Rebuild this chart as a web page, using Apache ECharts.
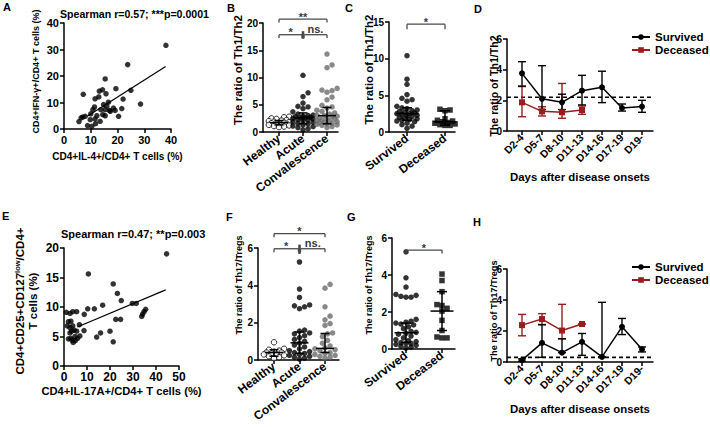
<!DOCTYPE html>
<html><head><meta charset="utf-8">
<script src="https://cdn.jsdelivr.net/npm/echarts@6/dist/echarts.min.js"></script>
<style>html,body{margin:0;padding:0;background:#fff}#c{width:710px;height:427px}</style>
</head><body><div id="c"></div>
<script>
// ================= DATA =================
// Panel A: CD4+IL-4+ (x) vs CD4+IFN-γ+ (y)
const aX = [38.1,23.8,15.4,7.2,13.2,14.4,19.4,25.0,15.7,11.6,13.0,22.1,16.6,11.4,14.8,16.0,28.6,10.8,13.8,15.4,18.5,19.1,21.6,17.3,12.3,14.5,15.4,20.4,7.0,6.4,7.9,5.6,9.8,11.6,13.5,8.8,10.4,11.8,10.0,17.0];
const aY = [31.6,24.3,18.9,13.1,14.3,14.8,15.2,14.6,13.3,11.4,12.1,11.3,10.1,8.3,9.2,8.6,9.4,7.3,7.3,7.3,7.9,7.0,7.7,6.7,5.0,5.4,5.0,4.8,4.5,4.2,4.8,2.8,3.5,3.8,2.9,1.3,1.0,2.0,5.7,7.0];
const aFitX = [8.7, 38.0];
const aFitY = [4.8, 23.6];
const aTitle = 'Spearman r=0.57; ***p=0.0001';

// Panel E: CD4+IL-17A+ (x) vs Tregs (y)
const eX = [44.6,10.6,21.4,23.2,24.9,29.7,31.4,16.8,13.2,10.3,35.5,34.8,34.2,33.8,8.8,5.5,1.0,2.6,3.8,22.5,24.6,6.7,1.9,3.0,1.4,2.6,3.8,4.4,3.3,5.5,2.6,8.7,15.9,20.0,14.2,21.4,1.9,3.0,4.0,4.9,5.9,6.9,4.8,3.5];
const eY = [19.0,15.6,13.9,12.3,11.1,10.6,10.6,10.3,9.7,9.7,9.6,9.2,8.8,8.4,8.75,9.2,9.1,8.9,9.2,7.9,7.9,7.0,7.5,7.6,6.8,6.5,6.8,6.1,5.9,5.9,5.6,6.0,5.6,5.9,4.9,4.1,4.6,4.7,4.0,4.3,4.7,5.1,5.0,4.4];
const eFitX = [5.8, 44.2];
const eFitY = [6.6, 12.9];
const eTitle = 'Spearman r=0.47; **p=0.003';

const cats3 = ['Healthy', 'Acute', 'Convalescence'];
const cats2 = ['Survived', 'Deceased'];

// Panel B: Th1/Th2 by group
const bHealthy = [2.8,2.7,2.5,2.4,2.2,2.1,2.0,1.9,1.8,1.7,1.7,1.6,1.5,1.5,1.4,1.3,1.2,1.1,1.0,0.9];
const bAcute = [10.4,7.2,6.5,5.3,4.7,4.6,4.3,3.7,3.3,3.1,3.0,2.9,2.8,2.7,2.6,2.6,2.5,2.4,2.3,2.2,2.0,1.9,1.8,1.6,1.5,1.3,1.1,1.0,0.8,0.6,0.4];
const bConv = [14.3,12.3,11.8,8.0,7.7,7.6,7.3,6.4,5.9,4.9,4.6,4.4,4.0,3.8,3.5,3.3,3.1,3.0,2.9,2.8,2.6,2.5,2.4,2.2,2.1,2.0,1.9,1.8,1.7,1.6,1.5,1.4,1.3,1.2,1.0,0.8];
const bMed = [1.7, 2.6, 3.0];
const bLo = [1.3, 1.5, 1.5];
const bHi = [2.1, 3.5, 4.5];
const bSig = [{from:0,to:2,y:20.7,text:'**'},{from:0,to:0.96,y:17.85,text:'*'},{from:1.04,to:2,y:17.85,text:'ns.'}];
const bMark = [[1, 18.5, 17.1]];

// Panel C: Th1/Th2 survived vs deceased
const cSurv = [10.4,7.2,6.5,5.1,4.6,4.4,4.2,3.5,3.3,3.2,3.0,2.9,2.8,2.7,2.6,2.5,2.5,2.4,2.3,2.2,2.1,2.0,1.9,1.8,1.7,1.6,1.5,1.4,1.2,1.0,0.8,0.5];
const cDec = [3.1,3.0,2.9,1.8,1.6,1.5,1.4,1.3,1.2,1.1,1.0,0.9,0.9];
const cMed = [2.5, 1.4];
const cLo = [1.6, 0.9];
const cHi = [3.3, 2.9];
const cSig = [{from:0,to:1,y:14.7,text:'*'}];

// Panel F: Th17/Tregs by group
const fHealthy = [0.95,0.6,0.55,0.5,0.45,0.4,0.4,0.35,0.3,0.3,0.25,0.2,0.15,0.1];
const fAcute = [5.25,3.8,3.35,2.95,2.9,2.85,2.75,1.6,1.55,1.45,1.4,1.3,1.2,1.1,1.0,0.9,0.8,0.7,0.6,0.5,0.45,0.4,0.35,0.3,0.25,0.2,0.15,0.1,0.05];
const fConv = [4.05,3.85,2.85,2.35,2.15,1.95,1.85,1.45,1.4,1.25,1.05,0.9,0.75,0.65,0.6,0.55,0.5,0.4,0.35,0.3,0.25,0.2,0.15,0.1];
const fMed = [0.4, 0.92, 0.62];
const fLo = [0.2, 0.35, 0.4];
const fHi = [0.55, 1.5, 1.42];
const fSig = [{from:0,to:2,y:6.77,text:'*'},{from:0,to:0.96,y:5.96,text:'*'},{from:1.04,to:2,y:5.96,text:'ns.'}];
const fMark = [[1, 6.18, 5.68]];

// Panel G: Th17/Tregs survived vs deceased
const gSurv = [5.25,3.85,3.35,2.95,2.9,2.85,2.8,2.8,1.6,1.5,1.45,1.4,1.35,1.3,1.2,1.1,0.95,0.9,0.85,0.8,0.7,0.6,0.5,0.45,0.4,0.35,0.3,0.3,0.25,0.2,0.15,0.1,0.05];
const gDec = [4.05,3.7,3.1,2.4,2.35,2.2,2.05,1.55,1.0,0.65,0.6,0.6];
const gMed = [0.88, 2.05];
const gLo = [0.35, 1.0];
const gHi = [1.4, 3.1];
const gSig = [{from:0,to:1,y:5.35,text:'*'}];

// Panels D & H: time course
const days = ['D2-4','D5-7','D8-10','D11-13','D14-16','D17-19','D19-'];
const dSurv = [3.76,2.1,1.87,2.63,2.85,1.5,1.59];
const dSurvLo = [2.93,1.4,1.4,1.7,1.85,1.3,1.22];
const dSurvHi = [4.52,4.26,2.4,3.63,3.9,1.76,2.0];
const dDec = [1.87,1.28,1.22,1.37];
const dDecLo = [0.93,0.98,0.83,1.09];
const dDecHi = [2.9,1.58,3.1,1.63];
const dRef = 2.2;
const hSurv = [0.12,1.23,0.6,1.3,0.33,2.27,0.82];
const hSurvLo = [0.05,0.3,0.6,0.43,0.33,1.77,0.65];
const hSurvHi = [0.2,2.4,1.5,1.84,3.85,2.81,0.97];
const hDec = [2.38,2.77,2.03,2.45];
const hDecLo = [1.69,2.42,1.5,2.45];
const hDecHi = [3.07,3.12,3.72,2.45];
const hRef = 0.3;

// axis titles
const yNames = {
  A:'CD4+IFN-γ+/CD4+ T cells (%)', B:'The ratio of Th1/Th2', C:'The ratio of Th1/Th2', D:'The ratio of Th1/Th2',
  E:'CD4+CD25+CD127{sup|low}/CD4+\nT cells (%)', F:'The ratio of Th17/Tregs', G:'The ratio of Th17/Tregs', H:'The ratio of Th17/Tregs'
};

// ================= BUILD =================
const FONT = '"Liberation Sans", Arial, Helvetica, sans-serif';
const RED = '#9a1d1d';
const GRAY = '#6b6b6b';
const grids = [], xAxes = [], yAxes = [], series = [], titles = [], legends = [], graphics = [];
const AX = {color:'#000', width:1.5};

function addGrid(l, t, w, h) {
  grids.push({left:l, top:t, width:w, height:h, containLabel:false, outerBoundsMode:'none'});
  return grids.length - 1;
}
function lab(size, extra) {
  return Object.assign({color:'#000', fontSize:size, fontWeight:'bold', fontFamily:FONT}, extra || {});
}
function nameStyle(size) {
  return {fontSize:size, fontWeight:'bold', color:'#000', fontFamily:FONT};
}
function vName(text, cx, cy, size, rich) {
  const st = {text:text, fill:'#000', fontSize:size, fontWeight:'bold', fontFamily:FONT,
    align:'center', verticalAlign:'middle', textAlign:'center', textVerticalAlign:'middle'};
  if (rich) { st.rich = rich; st.lineHeight = 13; }
  graphics.push({type:'text', x:cx, y:cy, rotation:Math.PI/2, silent:true, style:st});
}
function segSeries(xi, yi, segs, color, width, dash, z) {
  return {type:'custom', xAxisIndex:xi, yAxisIndex:yi, silent:true, animation:false, clip:false, z:z || 4,
    data:segs, encode:{x:[0,2], y:[1,3]},
    renderItem:function(params, api){
      const a = api.coord([api.value(0), api.value(1)]);
      const b = api.coord([api.value(2), api.value(3)]);
      return {type:'line', shape:{x1:a[0], y1:a[1], x2:b[0], y2:b[1]},
        style:{stroke:color, lineWidth:width, lineDash:dash || null, fill:null}};
    }};
}
function textSeries(xi, yi, pts, texts, lifts, color, size) {
  return {type:'custom', xAxisIndex:xi, yAxisIndex:yi, silent:true, animation:false, clip:false, z:6,
    data:pts,
    renderItem:function(params, api){
      const a = api.coord([api.value(0), api.value(1)]);
      return {type:'text', x:a[0], y:a[1] - lifts[params.dataIndex],
        style:{text:texts[params.dataIndex], fill:color, fontSize:size, fontWeight:'bold', fontFamily:FONT,
          align:'center', verticalAlign:'bottom', textAlign:'center', textVerticalAlign:'bottom'}};
    }};
}
// deterministic beeswarm layout: offsets depend only on the values
function swarm(vals, center, pxX, pxY, d, maxHalf) {
  const order = vals.map((v,i)=>i).sort((a,b)=>vals[a]-vals[b]);
  const placed = [], out = new Array(vals.length), step = d*0.5;
  for (const i of order) {
    const py = vals[i]*pxY;
    let chosen = null, bestOff = 0, bestDist = -1;
    for (let k = 0; k < 80; k++) {
      const off = (k === 0 ? 0 : (k % 2 ? 1 : -1) * Math.ceil(k/2)) * step;
      if (Math.abs(off) > maxHalf) break;
      let minD = Infinity;
      for (const p of placed) { const dx = p[0]-off, dy = p[1]-py; const dd = Math.sqrt(dx*dx+dy*dy); if (dd < minD) minD = dd; }
      if (minD >= d) { chosen = off; break; }
      if (minD > bestDist) { bestDist = minD; bestOff = off; }
    }
    if (chosen === null) chosen = bestOff;
    placed.push([chosen, py]);
    out[i] = [center + chosen/pxX, vals[i]];
  }
  return out;
}

function scatterPanel(p) {
  const g = addGrid(p.L, p.T, p.R-p.L, p.B-p.T);
  const xi = xAxes.length;
  xAxes.push({gridIndex:g, type:'value', min:0, max:p.xmax, interval:p.xint,
    axisLine:{show:true, onZero:false, lineStyle:AX}, axisTick:{show:true, length:4, lineStyle:AX},
    axisLabel:lab(p.tick, {margin:5}), splitLine:{show:false},
    name:p.xName, nameLocation:'middle', nameGap:p.xGap, nameMoveOverlap:false, nameTextStyle:nameStyle(p.xNameSize)});
  const yi = yAxes.length;
  yAxes.push({gridIndex:g, type:'value', min:0, max:p.ymax, interval:p.yint,
    axisLine:{show:true, onZero:false, lineStyle:AX}, axisTick:{show:true, length:4, lineStyle:AX},
    axisLabel:lab(p.tick, {margin:5}), splitLine:{show:false}});
  series.push({type:'scatter', xAxisIndex:xi, yAxisIndex:yi, data:p.xs.map((x,i)=>[x, p.ys[i]]),
    symbol:'circle', symbolSize:p.dot, itemStyle:{color:'#000'}, silent:true, z:3});
  series.push(segSeries(xi, yi, [[p.fitX[0], p.fitY[0], p.fitX[1], p.fitY[1]]], '#000', 1.2));
}

function catPanel(p) {
  const n = p.cats.length, unit = (p.c1-p.c0)/(n-1);
  const xmin = -(p.c0-p.L)/unit, xmax = (n-1) + (p.R-p.c1)/unit;
  const h = p.B - p.T, pxY = h/p.ymax;
  const g = addGrid(p.L, p.T, p.R-p.L, h);
  const xi = xAxes.length;
  xAxes.push({gridIndex:g, type:'value', min:xmin, max:xmax,
    axisLine:{show:true, onZero:false, lineStyle:AX}, axisTick:{show:false}, axisLabel:{show:false}, splitLine:{show:false},
    name:p.xName || '', nameLocation:'middle', nameGap:p.xGap || 0, nameMoveOverlap:false, nameTextStyle:nameStyle(p.xNameSize || 11)});
  const yi = yAxes.length;
  yAxes.push({gridIndex:g, type:'value', min:0, max:p.ymax, interval:p.yint,
    axisLine:{show:true, onZero:false, lineStyle:AX}, axisTick:{show:true, length:4, lineStyle:AX},
    axisLabel:lab(p.tick, {margin:5}), splitLine:{show:false}});
  const gl = addGrid(p.c0, p.T, p.c1-p.c0, h);
  xAxes.push({gridIndex:gl, type:'category', data:p.cats, boundaryGap:false,
    axisLine:{show:false}, axisTick:{show:true, length:4, inside:false, lineStyle:AX},
    axisLabel:lab(p.catSize, {rotate:p.catRot, margin:5, interval:0}), splitLine:{show:false}});
  yAxes.push({gridIndex:gl, type:'value', show:false, min:0, max:1, splitLine:{show:false}});
  return {xi, yi, unit, pxY, xmin, xmax};
}

function dotPlot(p) {
  const ax = catPanel(p);
  p.groups.forEach((gr, k) => {
    series.push({type:'scatter', xAxisIndex:ax.xi, yAxisIndex:ax.yi,
      data:swarm(gr.vals, k, ax.unit, ax.pxY, p.dot*0.92, p.spread),
      symbol:gr.symbol, symbolSize:p.dot, itemStyle:gr.style, clip:false, silent:true, z:3});
  });
  const segs = [], mw = p.medHalf/ax.unit, cw = p.capHalf/ax.unit;
  p.med.forEach((m, k) => {
    segs.push([k-mw, m, k+mw, m], [k, p.lo[k], k, p.hi[k]],
      [k-cw, p.lo[k], k+cw, p.lo[k]], [k-cw, p.hi[k], k+cw, p.hi[k]]);
  });
  series.push(segSeries(ax.xi, ax.yi, segs, '#000', 1.5, null, 5));
  const bs = [], tp = [], tt = [], tl = [], drop = p.drop/ax.pxY;
  p.sig.forEach(b => {
    bs.push([b.from, b.y, b.to, b.y], [b.from, b.y, b.from, b.y-drop], [b.to, b.y, b.to, b.y-drop]);
    tp.push([(b.from+b.to)/2, b.y]); tt.push(b.text); tl.push(b.text.charAt(0) === '*' ? -3 : 0.5);
  });
  series.push(segSeries(ax.xi, ax.yi, bs, '#4a4a4a', 1.3));
  if (p.marks) series.push(segSeries(ax.xi, ax.yi, p.marks.map(m => [m[0], m[1], m[0], m[2]]), '#4a4a4a', 2.6));
  series.push(textSeries(ax.xi, ax.yi, tp, tt, tl, '#3a3a3a', 11));
}

function timePanel(p) {
  const ax = catPanel(p);
  const capS = p.capHalf/ax.unit;
  series.push(segSeries(ax.xi, ax.yi, [[ax.xmin, p.ref, ax.xmax, p.ref]], '#000', 1.6, [4,3], 2));
  function errs(v, lo, hi) {
    const s = [];
    v.forEach((m, k) => { s.push([k, lo[k], k, hi[k]], [k-capS, lo[k], k+capS, lo[k]], [k-capS, hi[k], k+capS, hi[k]]); });
    return s;
  }
  series.push(segSeries(ax.xi, ax.yi, errs(p.dec, p.decLo, p.decHi), RED, 1.4, null, 3));
  series.push(segSeries(ax.xi, ax.yi, errs(p.surv, p.survLo, p.survHi), '#000', 1.4, null, 4));
  series.push({type:'line', name:'Deceased', xAxisIndex:ax.xi, yAxisIndex:ax.yi, data:p.dec.map((v,i)=>[i,v]),
    symbol:'rect', symbolSize:6, showSymbol:true, color:RED, itemStyle:{color:RED}, lineStyle:{color:RED, width:1.5}, silent:true, z:6});
  series.push({type:'line', name:'Survived', xAxisIndex:ax.xi, yAxisIndex:ax.yi, data:p.surv.map((v,i)=>[i,v]),
    symbol:'circle', symbolSize:6, showSymbol:true, color:'#000', itemStyle:{color:'#000'}, lineStyle:{color:'#000', width:1.5}, silent:true, z:7});
  legends.push({data:['Survived','Deceased'], orient:'vertical', left:p.legL, top:p.legT, padding:0, itemGap:1,
    itemWidth:18, itemHeight:7, selectedMode:false, textStyle:lab(11.5, {lineHeight:12})});
}

// ---- Panel A ----
scatterPanel({L:64, R:171, T:23, B:129, xmax:40, xint:10, ymax:40, yint:10, tick:11, dot:5.5,
  xs:aX, ys:aY, fitX:aFitX, fitY:aFitY, xName:'CD4+IL-4+/CD4+ T cells (%)', xGap:22, xNameSize:10});
vName(yNames.A, 35.5, 71.5, 9);
// ---- Panel E ----
scatterPanel({L:64, R:179, T:248, B:366, xmax:50, xint:10, ymax:20, yint:5, tick:12, dot:5.5,
  xs:eX, ys:eY, fitX:eFitX, fitY:eFitY, xName:'CD4+IL-17A+/CD4+ T cells (%)', xGap:19, xNameSize:11.2});
vName(yNames.E, 26.5, 301, 11.5, {sup:{fontSize:7.5, fontWeight:'bold', fontFamily:FONT, fill:'#000', verticalAlign:'top', lineHeight:8}});

// ---- Panel B ----
dotPlot({L:263, R:338, T:23, B:132, c0:279, c1:327, ymax:20, yint:5, tick:10, catSize:12, catRot:37, cats:cats3,
  dot:5.5, spread:11, medHalf:9, capHalf:4.5, drop:3.3,
  groups:[{vals:bHealthy, symbol:'circle', style:{color:'#fff', borderColor:'#000', borderWidth:1}},
          {vals:bAcute, symbol:'circle', style:{color:'#000'}},
          {vals:bConv, symbol:'circle', style:{color:GRAY}}],
  med:bMed, lo:bLo, hi:bHi, sig:bSig, marks:bMark});
vName(yNames.B, 238, 70, 11.5);
// ---- Panel C ----
dotPlot({L:389, R:455, T:22, B:132, c0:407, c1:445, ymax:15, yint:5, tick:10, catSize:12, catRot:37, cats:cats2,
  dot:5.5, spread:12, medHalf:11.5, capHalf:5, drop:5,
  groups:[{vals:cSurv, symbol:'circle', style:{color:'#000'}},
          {vals:cDec, symbol:'rect', style:{color:'#000'}}],
  med:cMed, lo:cLo, hi:cHi, sig:cSig});
vName(yNames.C, 368.5, 69.5, 11.5);
// ---- Panel F ----
dotPlot({L:258, R:339, T:248, B:360, c0:274, c1:325, ymax:6, yint:2, tick:10, catSize:12, catRot:37, cats:cats3,
  dot:5.5, spread:11, medHalf:9, capHalf:4.5, drop:3.5,
  groups:[{vals:fHealthy, symbol:'circle', style:{color:'#fff', borderColor:'#000', borderWidth:1}},
          {vals:fAcute, symbol:'circle', style:{color:'#000'}},
          {vals:fConv, symbol:'circle', style:{color:GRAY}}],
  med:fMed, lo:fLo, hi:fHi, sig:fSig, marks:fMark});
vName(yNames.F, 238.5, 285, 9);
// ---- Panel G ----
dotPlot({L:392, R:455, T:238, B:349, c0:406, c1:442, ymax:6, yint:2, tick:10, catSize:12, catRot:37, cats:cats2,
  dot:5.5, spread:12, medHalf:11.5, capHalf:5, drop:3.5,
  groups:[{vals:gSurv, symbol:'circle', style:{color:'#000'}},
          {vals:gDec, symbol:'rect', style:{color:'#000'}}],
  med:gMed, lo:gLo, hi:gHi, sig:gSig});
vName(yNames.G, 368.5, 285, 9);

// ---- Panel D ----
timePanel({L:507, R:653, T:39, B:131, c0:522, c1:642, ymax:6, yint:2, tick:10, catSize:10.5, catRot:45, cats:days,
  xName:'Days after disease onsets', xGap:40, xNameSize:11.4, capHalf:4,
  surv:dSurv, survLo:dSurvLo, survHi:dSurvHi, dec:dDec, decLo:dDecLo, decHi:dDecHi, ref:dRef,
  legL:631, legT:31});
vName(yNames.D, 494, 86, 10.6);
// ---- Panel H ----
timePanel({L:507, R:653, T:269, B:362, c0:522, c1:642, ymax:6, yint:2, tick:10, catSize:10.5, catRot:45, cats:days,
  xName:'Days after disease onsets', xGap:41, xNameSize:11.4, capHalf:4,
  surv:hSurv, survLo:hSurvLo, survHi:hSurvHi, dec:hDec, decLo:hDecLo, decHi:hDecHi, ref:hRef,
  legL:631, legT:261});
vName(yNames.H, 494, 311, 9.2);

// ---- Titles: panel letters and correlation texts ----
function addTitle(text, left, top, size) {
  titles.push({text:text, left:left, top:top, padding:0, textStyle:lab(size)});
}
addTitle('A', 3, 1, 11); addTitle('B', 227, 2, 11); addTitle('C', 345, 2, 11); addTitle('D', 474, 3, 11);
addTitle('E', 2, 210, 11); addTitle('F', 226, 211, 11); addTitle('G', 347, 211, 11); addTitle('H', 473, 216, 11);
addTitle(aTitle, 60, 8, 10.6);
addTitle(eTitle, 61, 228, 11);

const chart = echarts.init(document.getElementById('c'), null, {renderer:'svg'});
chart.setOption({animation:false, backgroundColor:'#fff', textStyle:{fontFamily:FONT},
  title:titles, legend:legends, grid:grids, xAxis:xAxes, yAxis:yAxes, series:series,
  graphic:{elements:graphics}});
</script></body></html>
